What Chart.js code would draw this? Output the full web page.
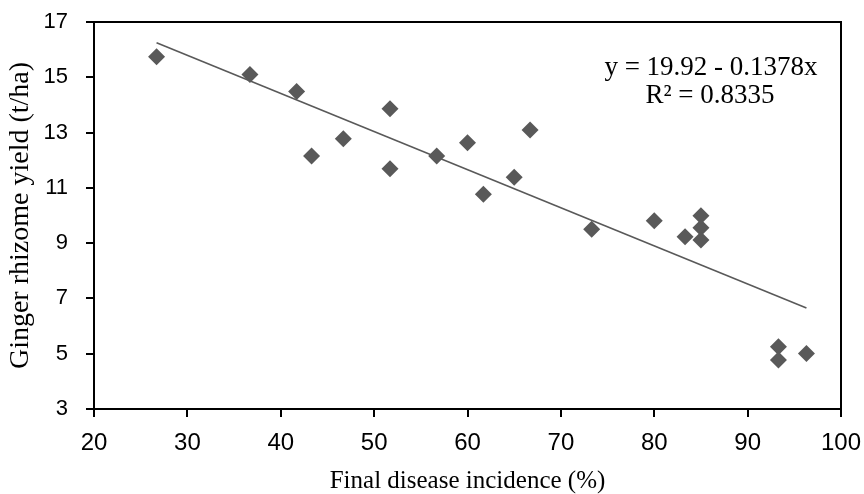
<!DOCTYPE html>
<html>
<head>
<meta charset="utf-8">
<script src="https://cdn.jsdelivr.net/npm/chart.js@4.4.1/dist/chart.umd.min.js"></script>
<style>
  html, body { margin: 0; padding: 0; background: #fff; }
  #wrap { width: 864px; height: 494px; }
</style>
</head>
<body>
<div id="wrap"><canvas id="chart" width="864" height="494"></canvas></div>
<script>
// values
const incidence = [26.7, 36.7, 41.7, 43.3, 46.7, 51.7, 51.7, 56.7, 60.0, 61.7, 65.0, 66.7, 73.3, 80.0, 83.3, 85.0, 85.0, 85.0, 93.3, 93.3, 96.3];
const yieldTHa = [15.74, 15.10, 14.49, 12.15, 12.78, 13.86, 11.69, 12.15, 12.63, 10.77, 11.38, 13.09, 9.50, 9.81, 9.23, 9.99, 9.56, 9.11, 5.25, 4.77, 5.01];
const trendX = [26.7, 96.3];
const trendY = [16.25, 6.65];
const equationLines = ['y = 19.92 - 0.1378x', 'R\u00B2 = 0.8335'];

const grey = '#595959';

const points = incidence.map((x, i) => ({ x: x, y: yieldTHa[i] }));
const trend = trendX.map((x, i) => ({ x: x, y: trendY[i] }));

// black frame round the plot area + the regression equation
const frameAndText = {
    id: 'frameAndText',
    afterDraw(chart) {
        const ctx = chart.ctx;
        const a = chart.chartArea;
        ctx.save();
        ctx.strokeStyle = '#000';
        ctx.lineWidth = 2;
        ctx.strokeRect(a.left, a.top, a.right - a.left, a.bottom - a.top);
        ctx.fillStyle = '#000';
        ctx.font = '27px "Liberation Serif", "Times New Roman", serif';
        ctx.textAlign = 'center';
        ctx.textBaseline = 'alphabetic';
        ctx.fillText(equationLines[0], a.right - 130, a.top + 53);
        ctx.fillText(equationLines[1], a.right - 131, a.top + 81);
        ctx.restore();
    }
};

const ctx = document.getElementById('chart').getContext('2d');
new Chart(ctx, {
    type: 'scatter',
    data: {
        datasets: [
            {
                label: 'Yield',
                data: points,
                pointStyle: 'rectRot',
                pointRadius: 8.5,
                pointHoverRadius: 8.5,
                backgroundColor: grey,
                borderColor: grey,
                borderWidth: 0
            },
            {
                type: 'line',
                label: 'Linear',
                data: trend,
                borderColor: grey,
                borderWidth: 1.6,
                pointRadius: 0,
                fill: false
            }
        ]
    },
    options: {
        responsive: false,
        devicePixelRatio: 1,
        animation: false,
        layout: { padding: { top: 22, right: 23, left: 0, bottom: 0 } },
        plugins: {
            legend: { display: false },
            tooltip: { enabled: false }
        },
        scales: {
            x: {
                type: 'linear',
                min: 20,
                max: 100,
                ticks: {
                    stepSize: 10,
                    padding: 12,
                    color: '#000',
                    font: { family: '"Liberation Sans", Arial, sans-serif', size: 24 }
                },
                grid: { drawOnChartArea: false, drawTicks: true, tickLength: 8, color: '#000', lineWidth: 2 },
                border: { display: true, color: '#000', width: 2 },
                title: {
                    display: true,
                    text: 'Final disease incidence (%)',
                    color: '#000',
                    padding: { top: 0, bottom: 0 },
                    font: { family: '"Liberation Serif", "Times New Roman", serif', size: 25, lineHeight: 1 }
                },
                afterFit(scale) {
                    scale.height = 85;
                    scale.paddingLeft = 0;
                    scale.paddingRight = 0;
                }
            },
            y: {
                type: 'linear',
                min: 3,
                max: 17,
                ticks: {
                    stepSize: 2,
                    padding: 18,
                    color: '#000',
                    font: { family: '"Liberation Sans", Arial, sans-serif', size: 22 }
                },
                grid: { drawOnChartArea: false, drawTicks: true, tickLength: 8, color: '#000', lineWidth: 2 },
                border: { display: true, color: '#000', width: 2 },
                title: {
                    display: true,
                    text: 'Ginger rhizome yield (t/ha)',
                    color: '#000',
                    padding: { top: 7, bottom: 0 },
                    font: { family: '"Liberation Serif", "Times New Roman", serif', size: 28, lineHeight: 1 }
                },
                afterFit(scale) {
                    scale.width = 94;
                    scale.paddingTop = 0;
                    scale.paddingBottom = 0;
                }
            }
        }
    },
    plugins: [frameAndText]
});
</script>
</body>
</html>
